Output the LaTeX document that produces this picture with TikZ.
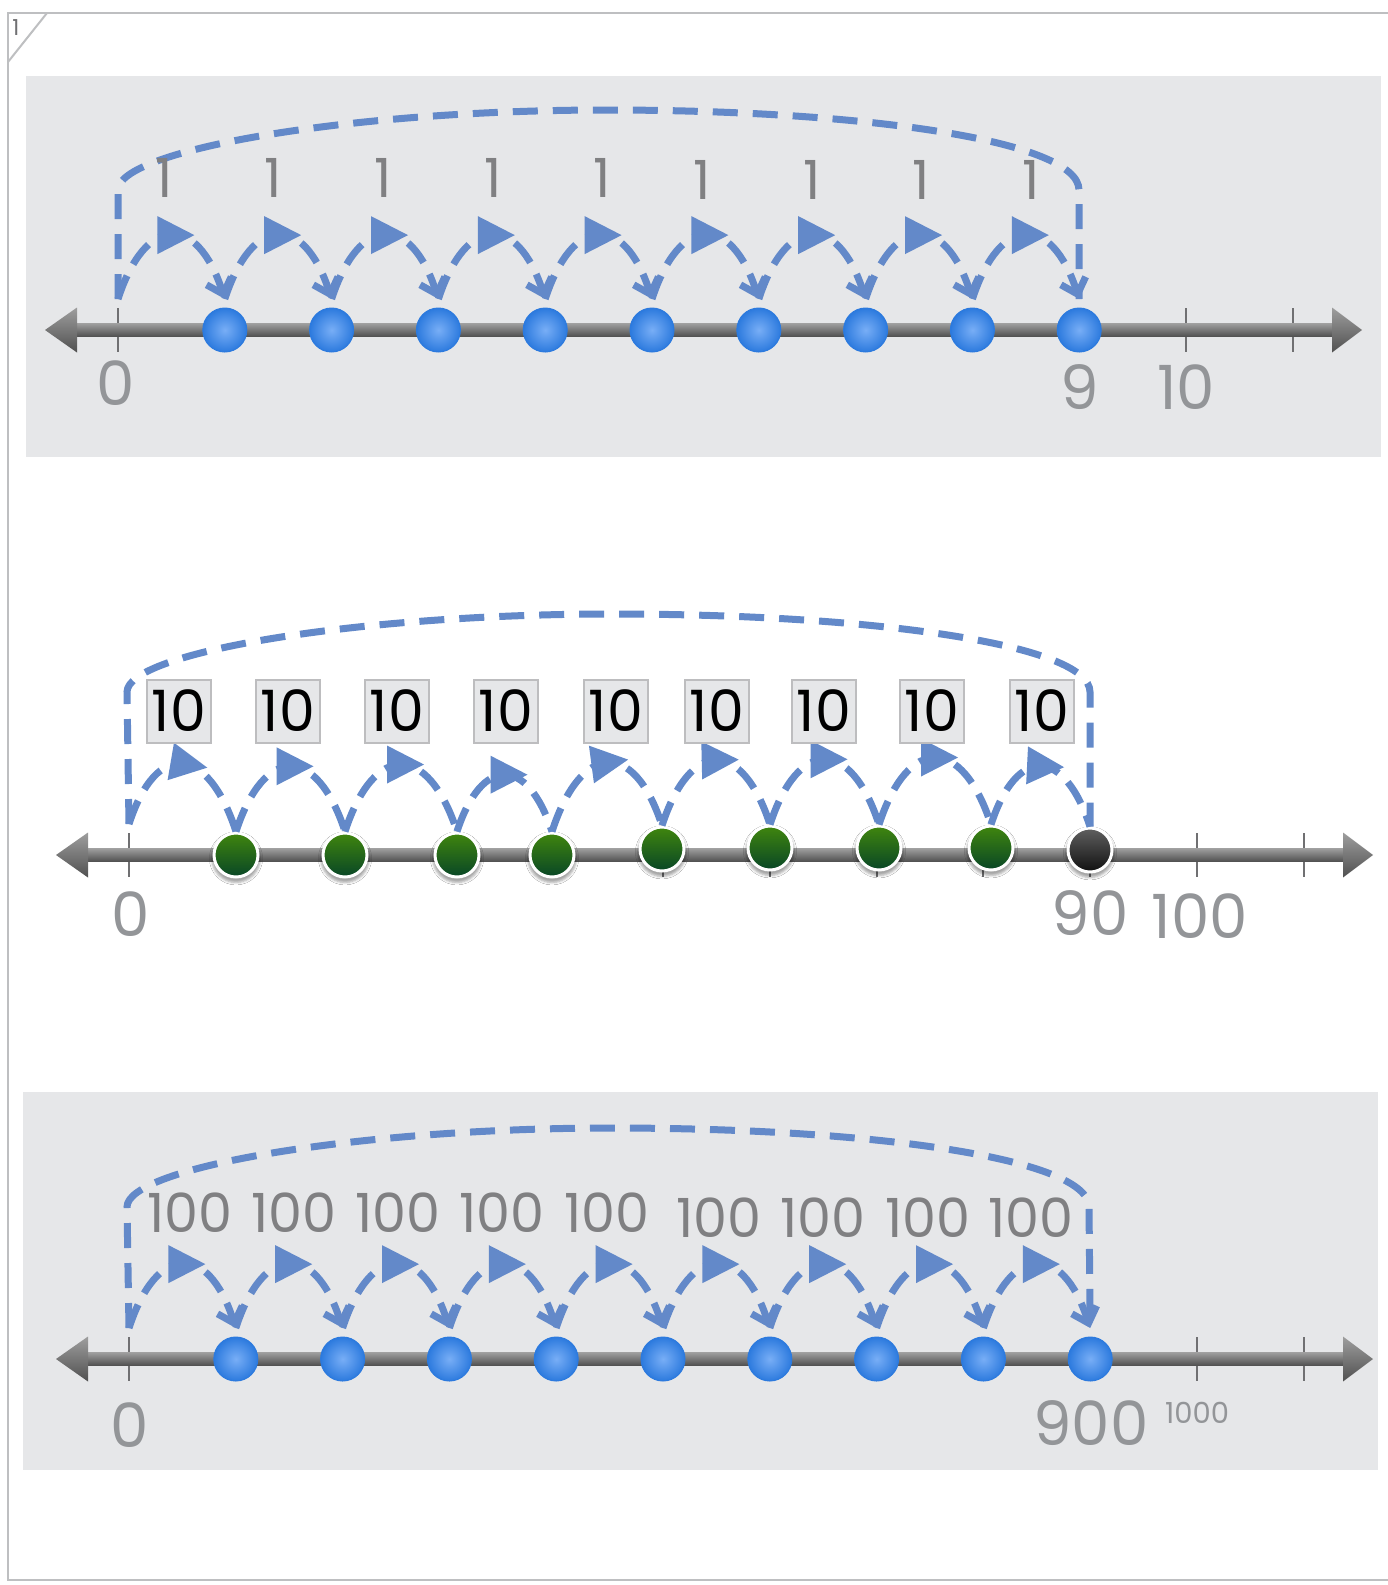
\documentclass[tikz,border=0pt]{standalone}
\usepackage{fontspec}
\setmainfont{Poppins}
\usetikzlibrary{
    arrows.meta,
    positioning,
    shadows.blur,
    decorations.markings
}
\definecolor{bgWhite}{RGB}{255, 255, 255}
\definecolor{panelGray}{RGB}{230, 231, 233}
\definecolor{frameGray}{RGB}{190, 191, 193}
\definecolor{boxBorder}{RGB}{189, 189, 191}
\definecolor{jumpBlue}{RGB}{99, 137, 201}
\definecolor{numGray}{RGB}{147, 149, 152}
\definecolor{stepGray}{RGB}{128, 128, 130}
\definecolor{tickGray}{RGB}{112, 112, 114}
\definecolor{axisLight}{RGB}{158, 158, 158}
\definecolor{axisDark}{RGB}{80, 80, 80}
\definecolor{dotBlueIn}{RGB}{120, 174, 246}
\definecolor{dotBlueOut}{RGB}{44, 122, 222}
\definecolor{dotGreenTop}{RGB}{64, 134, 14}
\definecolor{dotGreenBot}{RGB}{8, 70, 38}
\definecolor{dotBlackTop}{RGB}{96, 96, 96}
\definecolor{dotBlackBot}{RGB}{16, 16, 16}
\def\picW{1388}
\def\picH{1585}
\def\unit{106.8}
\tikzset{
    panel/.style={fill=panelGray, draw=none},
    frame/.style={draw=frameGray, line width=2pt},
    axisBar/.style={top color=axisLight, bottom color=axisDark},
    tickMark/.style={draw=tickGray, line width=2pt},
    axisNum/.style={
        font=\fontsize{61}{61}\selectfont,
        text=numGray,
        inner sep=0pt
    },
    stepNum/.style={
        font=\fontsize{54}{54}\selectfont,
        text=stepGray,
        inner sep=0pt
    },
    cornerNum/.style={
        font=\fontsize{22}{22}\selectfont,
        text=tickGray,
        inner sep=0pt
    },
    tenBox/.style={
        rectangle,
        fill=panelGray,
        draw=boxBorder,
        line width=2pt,
        minimum width=64pt,
        minimum height=63pt,
        inner sep=0pt,
        font=\fontsize{57}{57}\selectfont,
        text=black
    },
    % Points on the number lines
    zeroPt/.style={
        circle,
        minimum size=44pt,
        inner sep=0pt,
        outer sep=9pt
    },
    blueDot/.style={
        zeroPt,
        shading=radial,
        inner color=dotBlueIn,
        outer color=dotBlueOut,
        draw=dotBlueOut,
        line width=1pt
    },
    greenDot/.style={
        circle,
        minimum size=44pt,
        inner sep=0pt,
        top color=dotGreenTop,
        bottom color=dotGreenBot,
        draw=white,
        line width=3pt,
        blur shadow={shadow xshift=0pt, shadow yshift=-3pt, shadow scale=1.1, shadow opacity=35}
    },
    blackDot/.style={
        greenDot,
        top color=dotBlackTop,
        bottom color=dotBlackBot
    },
    % Jumps
    bracket/.style={
        draw=jumpBlue,
        line width=7pt,
        dash pattern=on 25pt off 15pt
    },
    hop/.style={
        draw=jumpBlue,
        line width=7pt,
        dash pattern=on 25pt off 13pt,
        postaction={decorate},
        decoration={markings,
            mark=at position 0.5 with {\fill[jumpBlue] (-14pt,-19pt) -- (23pt,0pt) -- (-14pt,19pt) -- cycle;}}
    },
    hopEnd/.style={hop, -{Straight Barb[length=14pt, width=26pt]}},
    hopArc/.style={out=72, in=108, looseness=2.15}
}

\begin{document}
\begin{tikzpicture}[x=1pt, y=-1pt]
    \useasboundingbox (0,0) rectangle (\picW, \picH);
    \fill[bgWhite] (0,0) rectangle (\picW, \picH);

    % Page frame
    \draw[frame] (\picW,13) -- (8,13) -- (8,1580) -- (\picW,1580);
    \draw[frame] (8,62) -- (47,13);
    \node[cornerNum] (pageNum) at (16,28) {1};

    % Gray panels
    \fill[panel] (26,76) rectangle (1381,457);
    \fill[panel] (23,1092) rectangle (1378,1470);

    % Number lines
    \foreach \zx/\zy in {118/330, 129/855, 129/1359} {
        \foreach \k in {0,...,11}
            \draw[tickMark] ({\zx+\k*\unit}, \zy-22) -- ++(0,44);
        \shade[axisBar] (\zx-42, \zy-6.5) rectangle (\zx+1215, \zy+6.5);
        \shade[axisBar] (\zx-41, \zy-22.5) -- (\zx-73, \zy) -- (\zx-41, \zy+22.5) -- cycle;
        \shade[axisBar] (\zx+1214, \zy-22.5) -- (\zx+1244, \zy) -- (\zx+1214, \zy+22.5) -- cycle;
    }

    % 1. Ones
    \node[zeroPt] (p1d0) at (118,330) {};
    \foreach \k in {1,...,9}
        \node[blueDot] (p1d\k) at ({118+\k*\unit},330) {};
    \foreach \k [count=\j from 0] in {1,...,9}
        \draw[hopEnd] (p1d\j.north) to[hopArc] (p1d\k.north);
    \draw[bracket] (p1d0.north) -- (118,190) .. controls (118,150) and (350,110) .. (606,110)
        .. controls (860,110) and (1079,140) .. (1079,190) -- (p1d9.north);
    \foreach \x/\y [count=\k] in {164/178, 273/178, 383/178, 493/178, 602/178, 702/180, 812/180, 921/180, 1031/180}
        \node[stepNum] (p1s\k) at (\x,\y) {1};
    \node[axisNum] (p1n0) at (116,383) {0};
    \node[axisNum] (p1n9) at (1080,387) {9};
    \node[axisNum] (p1n10) at (1186,387) {10};

    % 2. Tens
    \node[zeroPt] (p2d0) at (129,855) {};
    \foreach \x/\y [count=\k] in {236/855, 345/855, 457/855, 552/855, 662/849, 770/848, 879/848, 991/848}
        \node[greenDot] (p2d\k) at (\x,\y) {};
    \node[blackDot] (p2d9) at (1090,850) {};
    \foreach \k [count=\j from 0] in {1,...,9}
        \draw[hop] (p2d\j.north) to[hopArc] (p2d\k.north);
    \draw[bracket] (p2d0.north) -- (127,692) .. controls (127,652) and (360,614) .. (612,614)
        .. controls (870,614) and (1090,644) .. (1090,692) -- (p2d9.north);
    \foreach \x [count=\k] in {179, 288, 397, 506, 616, 717, 824, 932, 1042}
        \node[tenBox] (p2b\k) at (\x,711) {10};
    \node[axisNum] (p2n0) at (131,914) {0};
    \node[axisNum] (p2n90) at (1090,913) {90};
    \node[axisNum] (p2n100) at (1200,916) {100};

    % 3. Hundreds
    \node[zeroPt] (p3d0) at (129,1359) {};
    \foreach \k in {1,...,9}
        \node[blueDot] (p3d\k) at ({129+\k*\unit},1359) {};
    \foreach \k [count=\j from 0] in {1,...,9}
        \draw[hopEnd] (p3d\j.north) to[hopArc] (p3d\k.north);
    \draw[bracket] (p3d0.north) -- (127,1207) .. controls (127,1167) and (360,1128) .. (612,1128)
        .. controls (870,1128) and (1089,1158) .. (1089,1207) -- (p3d9.north);
    \foreach \x/\y [count=\k] in {190/1213, 294/1213, 398/1213, 502/1213, 607/1213, 719/1218, 823/1218, 928/1218, 1031/1218}
        \node[stepNum] (p3s\k) at (\x,\y) {100};
    \node[axisNum] (p3n0) at (130,1425) {0};
    \node[axisNum] (p3n900) at (1091,1423) {900};
    \node[axisNum, font=\fontsize{29}{29}\selectfont] (p3n1000) at (1197,1413) {1000};
\end{tikzpicture}
\end{document}
